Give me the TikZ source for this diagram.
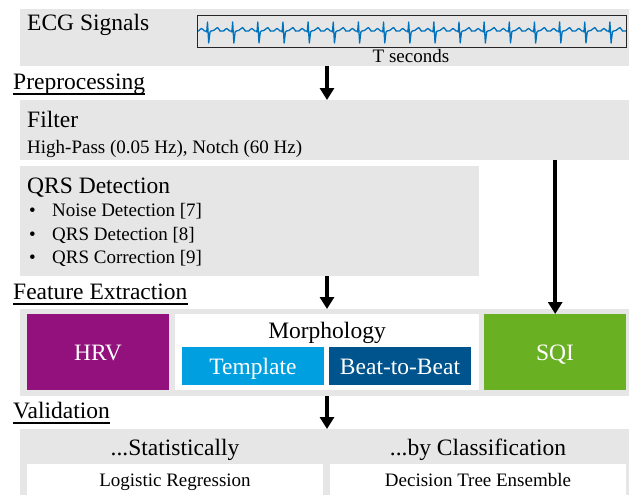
\documentclass[tikz,border=0pt]{standalone}
\usepackage{fontspec}
\setmainfont{Liberation Serif}[Ligatures=TeX]
\newfontfamily\diagramserif{Liberation Serif}
\usetikzlibrary{arrows.meta}
\definecolor{bandgray}{RGB}{230,230,230}
\definecolor{hrvpurple}{RGB}{146,17,124}
\definecolor{tmplblue}{RGB}{0,159,223}
\definecolor{beatblue}{RGB}{0,84,142}
\definecolor{sqigreen}{RGB}{106,176,35}
\definecolor{ecgblue}{RGB}{0,114,189}
\begin{document}
\begin{tikzpicture}[x=1pt,y=-1pt,
  bigtext/.style={font=\diagramserif\fontsize{23.5}{28}\selectfont},
  smalltext/.style={font=\diagramserif\fontsize{19}{22}\selectfont},
  txt/.style={inner sep=0pt, anchor=base west},
  ctxt/.style={inner sep=0pt, anchor=base},
  area/.style={draw=none, inner sep=0pt, anchor=north west},
  band/.style={area, fill=bandgray},
  arr/.style={line width=4pt, -{Triangle[width=14pt,length=12pt]}},
  uline/.style={line width=1.6pt},
  ecgline/.style={ecgblue, line width=1.3pt, line join=round, line cap=round},
  ecgbeat/.pic={\draw[ecgline] (-12.6,0) -- (-9,0) -- (-7.5,-1.5) -- (-6,-2.5)
      -- (-4.5,-1.5) -- (-3,0) -- (-1.5,0) -- (-0.8,1) -- (0,-9) -- (1.2,12)
      -- (2.5,1) -- (3.5,0) -- (6,-0.5) -- (8,-2) -- (10,-3.5) -- (12,-1) -- (12.6,0);}
]
\useasboundingbox (0,0) rectangle (629,495);

% ---- input signal band ----
\node[band, minimum width=609pt, minimum height=57pt] (ecg) at (20,9) {};
\node[bigtext, txt] (ecgtitle) at (27,31) {ECG Signals};
\begin{scope}
  \clip (197,15) rectangle (626,47);
  \foreach \i in {0,...,17}
    \pic at ({207.5+25.15*\i},31) {ecgbeat};
\end{scope}
\node[area, draw=black!85, line width=1.2pt,
      minimum width=429pt, minimum height=32pt] (plot) at (197,15) {};
\node[smalltext, ctxt] (tsec) at (411,63) {T seconds};

% ---- preprocessing ----
\node[bigtext, txt] (pre) at (13,89) {Preprocessing};
\draw[uline] ([yshift=-5pt]pre.base west) -- ([yshift=-5pt]pre.base east);

\node[band, minimum width=609pt, minimum height=60pt] (filter) at (20,100) {};
\node[bigtext, txt] (filtertitle) at (27,127) {Filter};
\node[smalltext, txt] (filtertext) at (27,153) {High-Pass (0.05 Hz), Notch (60 Hz)};

\node[band, minimum width=459pt, minimum height=110pt] (qrs) at (20,166) {};
\node[bigtext, txt] (qrstitle) at (27,193) {QRS Detection};
\foreach \t/\y/\n in {Noise Detection [7]/216/a, QRS Detection [8]/240/b, QRS Correction [9]/263/c}{
  \node[smalltext, txt] (bul\n) at (29,\y) {\textbullet};
  \node[smalltext, txt] (item\n) at (52,\y) {\t};
}

% ---- feature extraction ----
\node[bigtext, txt] (feat) at (13,299) {Feature Extraction};
\draw[uline] ([yshift=-5pt]feat.base west) -- ([yshift=-5pt]feat.base east);

\node[band, minimum width=609pt, minimum height=87pt] (featband) at (20,309) {};
\node[area, fill=hrvpurple, minimum width=142pt, minimum height=76pt] (hrv) at (27,314) {};
\node[bigtext, ctxt, white] (hrvtext) at (98,360) {HRV};
\node[area, fill=white, minimum width=304pt, minimum height=76pt] (morph) at (175,314) {};
\node[bigtext, ctxt] (morphtext) at (327,338) {Morphology};
\node[area, fill=tmplblue, minimum width=142pt, minimum height=38pt] (tmpl) at (182,347) {};
\node[bigtext, ctxt, white] (tmpltext) at (253,374) {Template};
\node[area, fill=beatblue, minimum width=142pt, minimum height=38pt] (b2b) at (329,347) {};
\node[bigtext, ctxt, white] (b2btext) at (400,374) {Beat-to-Beat};
\node[area, fill=sqigreen, minimum width=142pt, minimum height=76pt] (sqi) at (484,314) {};
\node[bigtext, ctxt, white] (sqitext) at (555,360) {SQI};

% ---- validation ----
\node[bigtext, txt] (valid) at (13,418) {Validation};
\draw[uline] ([yshift=-5pt]valid.base west) -- ([yshift=-5pt]valid.base east);

\node[band, minimum width=609pt, minimum height=66pt] (validband) at (20,429) {};
\node[bigtext, ctxt] (stat) at (175,455) {...Statistically};
\node[bigtext, ctxt] (clf) at (478,455) {...by Classification};
\node[area, fill=white, minimum width=296pt, minimum height=31pt] (lrbox) at (27,464) {};
\node[smalltext, ctxt] (lr) at (175,486) {Logistic Regression};
\node[area, fill=white, minimum width=296pt, minimum height=31pt] (dtbox) at (330,464) {};
\node[smalltext, ctxt] (dt) at (478,486) {Decision Tree Ensemble};

% ---- flow arrows ----
\coordinate (col) at (327,0);
\draw[arr] (ecg.south -| col) -- (filter.north -| col);
\draw[arr] (qrs.south -| col) -- (featband.north -| col);
\draw[arr] (featband.south -| col) -- (validband.north -| col);
\draw[arr] (filter.south -| sqi.north) -- (sqi.north);
\end{tikzpicture}
\end{document}
